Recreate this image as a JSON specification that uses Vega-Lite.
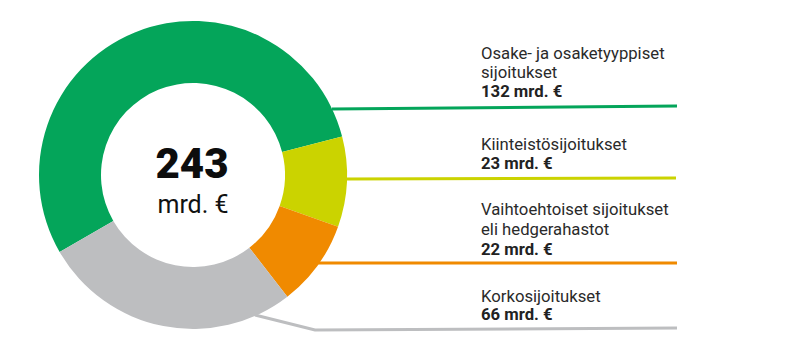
{
  "$schema": "https://vega.github.io/schema/vega-lite/v6.json",
  "width": 790,
  "height": 354,
  "autosize": {"type": "fit", "contains": "padding"},
  "padding": 0,
  "background": "white",
  "config": {"view": {"stroke": null}, "text": {"font": "Roboto"}},
  "datasets": {
    "slices": [
      {"cat": "Osake- ja osaketyyppiset sijoitukset", "value": 132, "ord": 1},
      {"cat": "Kiinteistösijoitukset", "value": 23, "ord": 2},
      {"cat": "Vaihtoehtoiset sijoitukset eli hedgerahastot", "value": 22, "ord": 3},
      {"cat": "Korkosijoitukset", "value": 66, "ord": 4}
    ],
    "leaders": [
      {"cat": "Osake- ja osaketyyppiset sijoitukset", "i": 1, "x": 332, "y": 109},
      {"cat": "Osake- ja osaketyyppiset sijoitukset", "i": 2, "x": 677, "y": 106},
      {"cat": "Kiinteistösijoitukset", "i": 1, "x": 346, "y": 179},
      {"cat": "Kiinteistösijoitukset", "i": 2, "x": 676, "y": 178},
      {"cat": "Vaihtoehtoiset sijoitukset eli hedgerahastot", "i": 1, "x": 318, "y": 263},
      {"cat": "Vaihtoehtoiset sijoitukset eli hedgerahastot", "i": 2, "x": 677, "y": 263},
      {"cat": "Korkosijoitukset", "i": 1, "x": 255, "y": 315},
      {"cat": "Korkosijoitukset", "i": 2, "x": 315, "y": 330},
      {"cat": "Korkosijoitukset", "i": 3, "x": 677, "y": 328}
    ],
    "texts": [
      {"t": "243", "x": 192, "y": 178, "kind": "big"},
      {"t": "mrd. €", "x": 193, "y": 213, "kind": "mid"},
      {"t": "Osake- ja osaketyyppiset", "x": 481, "y": 59, "kind": "label"},
      {"t": "sijoitukset", "x": 481, "y": 78, "kind": "label"},
      {"t": "132 mrd. €", "x": 481, "y": 97, "kind": "value"},
      {"t": "Kiinteistösijoitukset", "x": 481, "y": 150, "kind": "label"},
      {"t": "23 mrd. €", "x": 481, "y": 169, "kind": "value"},
      {"t": "Vaihtoehtoiset sijoitukset", "x": 481, "y": 215, "kind": "label"},
      {"t": "eli hedgerahastot", "x": 481, "y": 235, "kind": "label"},
      {"t": "22 mrd. €", "x": 481, "y": 255, "kind": "value"},
      {"t": "Korkosijoitukset", "x": 481, "y": 302, "kind": "label"},
      {"t": "66 mrd. €", "x": 481, "y": 320, "kind": "value"}
    ]
  },
  "encoding": {
    "color": {
      "field": "cat",
      "type": "nominal",
      "legend": null,
      "scale": {
        "domain": ["Osake- ja osaketyyppiset sijoitukset", "Kiinteistösijoitukset", "Vaihtoehtoiset sijoitukset eli hedgerahastot", "Korkosijoitukset"],
        "range": ["#04A55A", "#CBD300", "#F08A00", "#BDBEC0"]
      }
    }
  },
  "layer": [
    {
      "data": {"name": "slices"},
      "mark": {"type": "arc", "x": 193, "y": 175, "outerRadius": 154, "innerRadius": 92},
      "encoding": {
        "theta": {"field": "value", "type": "quantitative", "stack": true, "scale": {"range": [4.18879, 10.47198]}},
        "order": {"field": "ord", "type": "quantitative"}
      }
    },
    {
      "data": {"name": "leaders"},
      "mark": {"type": "line", "strokeWidth": 3, "strokeCap": "butt", "strokeJoin": "miter"},
      "encoding": {
        "x": {"field": "x", "type": "quantitative", "axis": null, "scale": {"domain": [0, 790], "nice": false, "zero": false}},
        "y": {"field": "y", "type": "quantitative", "axis": null, "scale": {"domain": [0, 354], "nice": false, "zero": false, "reverse": true}},
        "order": {"field": "i", "type": "quantitative"}
      }
    },
    {
      "data": {"name": "texts"},
      "transform": [{"filter": "datum.kind === 'big'"}],
      "mark": {"type": "text", "fontSize": 42, "fontWeight": 900, "align": "center", "baseline": "alphabetic", "letterSpacing": 0.5},
      "encoding": {
        "x": {"field": "x", "type": "quantitative"},
        "y": {"field": "y", "type": "quantitative"},
        "text": {"field": "t"},
        "color": {"value": "#0d0d0d"}
      }
    },
    {
      "data": {"name": "texts"},
      "transform": [{"filter": "datum.kind === 'mid'"}],
      "mark": {"type": "text", "fontSize": 25, "align": "center", "baseline": "alphabetic", "letterSpacing": 1},
      "encoding": {
        "x": {"field": "x", "type": "quantitative"},
        "y": {"field": "y", "type": "quantitative"},
        "text": {"field": "t"},
        "color": {"value": "#111111"}
      }
    },
    {
      "data": {"name": "texts"},
      "transform": [{"filter": "datum.kind === 'label'"}],
      "mark": {"type": "text", "fontSize": 16.7, "align": "left", "baseline": "alphabetic"},
      "encoding": {
        "x": {"field": "x", "type": "quantitative"},
        "y": {"field": "y", "type": "quantitative"},
        "text": {"field": "t"},
        "color": {"value": "#2a2a2a"}
      }
    },
    {
      "data": {"name": "texts"},
      "transform": [{"filter": "datum.kind === 'value'"}],
      "mark": {"type": "text", "fontSize": 16.7, "fontWeight": "bold", "align": "left", "baseline": "alphabetic"},
      "encoding": {
        "x": {"field": "x", "type": "quantitative"},
        "y": {"field": "y", "type": "quantitative"},
        "text": {"field": "t"},
        "color": {"value": "#222222"}
      }
    }
  ]
}
